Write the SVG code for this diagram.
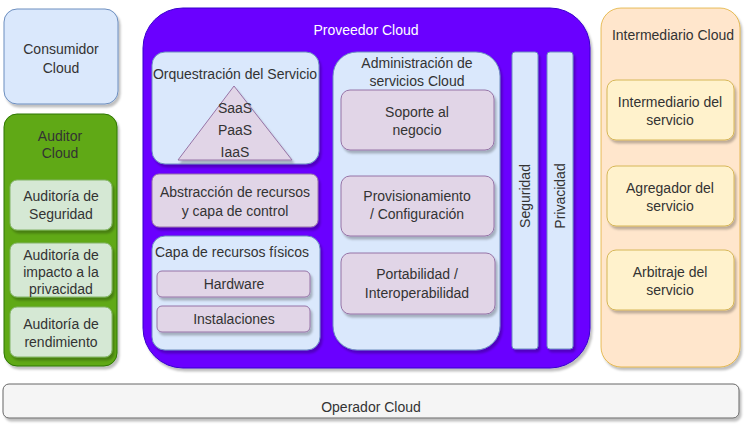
<svg xmlns="http://www.w3.org/2000/svg" width="745" height="426" viewBox="0 0 745 426">
<defs>
<filter id="sh" x="-10%" y="-10%" width="130%" height="130%">
<feDropShadow dx="2" dy="3" stdDeviation="1.2" flood-color="#000" flood-opacity="0.25"/>
</filter>
</defs>
<style>
text{font-family:"Liberation Sans",Arial,sans-serif;font-size:14px;fill:#333;text-anchor:middle}
.blue{fill:#dae8fc;stroke:#6c8ebf;stroke-width:1}
.lilac{fill:#e1d5e7;stroke:#9673a6;stroke-width:1}
.lgreen{fill:#d5e8d4;stroke:#82b366;stroke-width:1}
.yel{fill:#fff2cc;stroke:#d6b656;stroke-width:1}
.s{filter:url(#sh)}
.w{fill:#fff}
</style>
<g id="consumidor">
<rect class="blue s" x="4" y="9" width="114" height="95" rx="13"/>
<text x="61" y="54">Consumidor</text><text x="61" y="73">Cloud</text>
</g>
<g id="auditor">
<rect class="s" x="4" y="114" width="113" height="252" rx="13" fill="#60a917" stroke="#2d7600"/>
<text x="60" y="141">Auditor</text><text x="60" y="158">Cloud</text>
<g id="aud-seg"><rect class="lgreen s" x="10" y="180" width="102" height="50" rx="7"/>
<text x="61" y="201">Auditoría de</text><text x="61" y="219">Seguridad</text></g>
<g id="aud-priv"><rect class="lgreen s" x="10" y="243" width="102" height="54" rx="7"/>
<text x="61" y="260">Auditoría de</text><text x="61" y="277">impacto a la</text><text x="61" y="294">privacidad</text></g>
<g id="aud-rend"><rect class="lgreen s" x="10" y="307" width="102" height="50" rx="7"/>
<text x="61" y="329">Auditoría de</text><text x="61" y="347">rendimiento</text></g>
</g>
<g id="proveedor">
<rect class="s" x="143" y="8" width="447" height="360" rx="40" fill="#6a00ff" stroke="#3700cc"/>
<text class="w" x="366" y="35">Proveedor Cloud</text>
<g id="orquestacion">
<rect class="blue s" x="152" y="52" width="167" height="112" rx="13"/>
<text x="235" y="79">Orquestración del Servicio</text>
<polygon class="lilac s" points="234,86 292,160 178,160"/>
<text x="235" y="113">SaaS</text><text x="235" y="135">PaaS</text><text x="235" y="157">IaaS</text>
</g>
<g id="abstraccion">
<rect class="lilac s" x="152" y="174" width="166" height="53" rx="7"/>
<text x="235" y="197">Abstracción de recursos</text><text x="235" y="216">y capa de control</text>
</g>
<g id="capa-fisica">
<rect class="blue s" x="152" y="236" width="168" height="114" rx="13"/>
<text x="232" y="257">Capa de recursos físicos</text>
<g id="hardware"><rect class="lilac s" x="157" y="271" width="153" height="26" rx="5"/><text x="234" y="289">Hardware</text></g>
<g id="instalaciones"><rect class="lilac s" x="157" y="306" width="153" height="26" rx="5"/><text x="234" y="324">Instalaciones</text></g>
</g>
<g id="administracion">
<rect class="blue s" x="333" y="52" width="167" height="298" rx="24"/>
<text x="417" y="68">Administración de</text><text x="417" y="86">servicios Cloud</text>
<g id="soporte"><rect class="lilac s" x="341" y="90" width="153" height="60" rx="9"/>
<text x="417" y="117">Soporte al</text><text x="417" y="135">negocio</text></g>
<g id="provisionamiento"><rect class="lilac s" x="341" y="176" width="153" height="60" rx="9"/>
<text x="417" y="201">Provisionamiento</text><text x="417" y="219">/ Configuración</text></g>
<g id="portabilidad"><rect class="lilac s" x="341" y="253" width="154" height="61" rx="9"/>
<text x="417" y="279">Portabilidad /</text><text x="417" y="298">Interoperabilidad</text></g>
</g>
<g id="seguridad"><rect class="blue s" x="512" y="52" width="26" height="297" rx="3"/>
<text transform="translate(530,196) rotate(-90)">Seguridad</text></g>
<g id="privacidad"><rect class="blue s" x="547" y="52" width="26" height="297" rx="3"/>
<text transform="translate(565,196) rotate(-90)">Privacidad</text></g>
</g>
<g id="intermediario">
<rect class="s" x="601" y="8" width="139" height="359" rx="20" fill="#ffe6cc" stroke="#d79b00" stroke-opacity="0.6"/>
<text x="673" y="40">Intermediario Cloud</text>
<g id="int-serv"><rect class="yel s" x="607" y="80" width="127" height="60" rx="9"/>
<text x="670" y="107">Intermediario del</text><text x="670" y="125">servicio</text></g>
<g id="agregador"><rect class="yel s" x="607" y="166" width="127" height="60" rx="9"/>
<text x="670" y="193">Agregador del</text><text x="670" y="211">servicio</text></g>
<g id="arbitraje"><rect class="yel s" x="607" y="250" width="127" height="60" rx="9"/>
<text x="670" y="277">Arbitraje del</text><text x="670" y="295">servicio</text></g>
</g>
<g id="operador">
<rect class="s" x="3" y="384" width="736" height="34" rx="6" fill="#f5f5f5" stroke="#666"/>
<text x="371" y="412">Operador Cloud</text>
</g>
<g id="connectors"/>
</svg>
